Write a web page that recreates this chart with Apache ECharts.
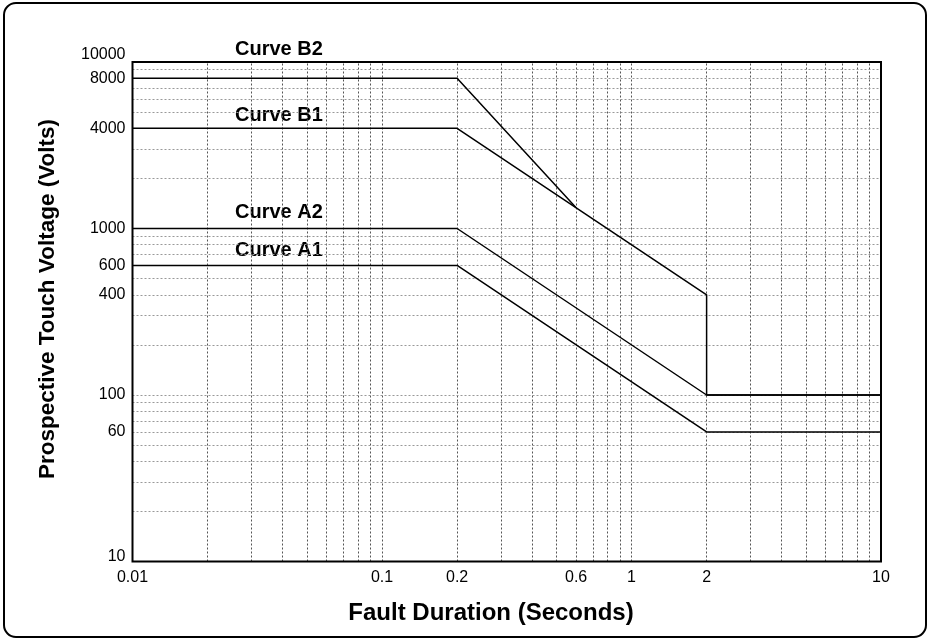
<!DOCTYPE html>
<html>
<head>
<meta charset="utf-8">
<script src="https://cdn.jsdelivr.net/npm/echarts@6/dist/echarts.min.js"></script>
<style>
html,body{margin:0;padding:0;background:#fff;}
#chart{width:930px;height:641px;}
</style>
</head>
<body>
<div id="chart"></div>
<script>
// ---- data (Fault duration s, touch voltage V) ----
const curveA1 = [[0.01, 600], [0.2, 600], [2, 60], [10, 60]];
const curveA2 = [[0.01, 1000], [0.2, 1000], [2, 100], [10, 100]];
const curveB1 = [[0.01, 4000], [0.2, 4000], [2, 400], [2, 100], [10, 100]];
const curveB2 = [[0.01, 8000], [0.2, 8000], [0.6, 1333]];
const curveNames = ['Curve A1', 'Curve A2', 'Curve B1', 'Curve B2'];
const xTickLabels = [0.01, 0.1, 0.2, 0.6, 1, 2, 10];
const yTickLabels = [10, 60, 100, 400, 600, 1000, 4000, 8000, 10000];
const xGridValues = [0.02,0.03,0.04,0.05,0.06,0.07,0.08,0.09,0.1,0.2,0.3,0.4,0.5,0.6,0.7,0.8,0.9,1,2,3,4,5,6,7,8,9];
const yGridValues = [20,30,40,50,60,70,80,90,100,200,300,400,500,600,700,800,900,1000,2000,3000,4000,5000,6000,7000,8000,9000];

const FONT = '"Liberation Sans", Arial, Helvetica, sans-serif';
const chart = echarts.init(document.getElementById('chart'), null, {renderer: 'canvas'});

const curveStyle = {color: '#000', width: 1.5};
function curveSeries(name, data) {
  return {
    name: name, type: 'line', data: data, symbol: 'none', z: 5,
    lineStyle: curveStyle, itemStyle: {color: '#000'}, silent: true,
    emphasis: {disabled: true}
  };
}

const option = {
  animation: false,
  backgroundColor: '#fff',
  grid: {left: 132.5, right: 49, top: 62, bottom: 79.5, show: true, borderColor: '#000', borderWidth: 2, backgroundColor: 'transparent', z: 10},
  xAxis: {
    type: 'log', logBase: 10, min: 0.01, max: 10,
    axisLine: {show: false}, axisTick: {show: false}, splitLine: {show: false},
    axisLabel: {
      customValues: xTickLabels, margin: 8, color: '#000', fontSize: 16, fontFamily: FONT,
      formatter: function (v) { return String(v); }
    }
  },
  yAxis: {
    type: 'log', logBase: 10, min: 10, max: 10000,
    axisLine: {show: false}, axisTick: {show: false}, splitLine: {show: false},
    axisLabel: {
      customValues: yTickLabels, margin: 7, color: '#000', fontSize: 16, fontFamily: FONT,
      formatter: function (v) {
        if (v >= 10000) return '{top|' + v + '}';
        if (v <= 10) return '{bot|' + v + '}';
        return String(v);
      },
      rich: {
        top: {fontSize: 16, fontFamily: FONT, color: '#000', padding: [0, 0, 15, 0]},
        bot: {fontSize: 16, fontFamily: FONT, color: '#000', padding: [0, 0, 10, 0]}
      }
    }
  },
  series: [
    {
      type: 'line', data: [], z: 1, silent: true,
      markLine: {
        silent: true, symbol: ['none', 'none'], label: {show: false}, animation: false,
        emphasis: {disabled: true},
        lineStyle: {color: '#555', type: [2, 2], width: 1},
        data: xGridValues.map(v => ({xAxis: v}))
      }
    },
    {
      type: 'line', data: [], z: 1, silent: true,
      markLine: {
        silent: true, symbol: ['none', 'none'], label: {show: false}, animation: false,
        emphasis: {disabled: true},
        lineStyle: {color: '#999', type: [2, 2], width: 1},
        data: yGridValues.map(v => ({yAxis: v}))
      }
    },
    curveSeries(curveNames[0], curveA1),
    curveSeries(curveNames[1], curveA2),
    curveSeries(curveNames[2], curveB1),
    curveSeries(curveNames[3], curveB2)
  ],
  graphic: [
    {type: 'rect', shape: {x: 4, y: 3, width: 922, height: 634, r: 12}, style: {fill: 'none', stroke: '#000', lineWidth: 2}, silent: true},
    {type: 'text', x: 235, y: 49, style: {text: curveNames[3], font: 'bold 20px ' + FONT, fill: '#000', textVerticalAlign: 'middle'}},
    {type: 'text', x: 235, y: 115, style: {text: curveNames[2], font: 'bold 20px ' + FONT, fill: '#000', textVerticalAlign: 'middle'}},
    {type: 'text', x: 235, y: 212, style: {text: curveNames[1], font: 'bold 20px ' + FONT, fill: '#000', textVerticalAlign: 'middle'}},
    {type: 'text', x: 235, y: 250, style: {text: curveNames[0], font: 'bold 20px ' + FONT, fill: '#000', textVerticalAlign: 'middle'}},
    {type: 'text', x: 491, y: 613, style: {text: 'Fault Duration (Seconds)', font: 'bold 24px ' + FONT, fill: '#000', textAlign: 'center', textVerticalAlign: 'middle'}},
    {type: 'text', x: 48, y: 299, rotation: Math.PI / 2, style: {text: 'Prospective Touch Voltage (Volts)', font: 'bold 22.5px ' + FONT, fill: '#000', textAlign: 'center', textVerticalAlign: 'middle'}}
  ]
};
chart.setOption(option);
</script>
</body>
</html>
